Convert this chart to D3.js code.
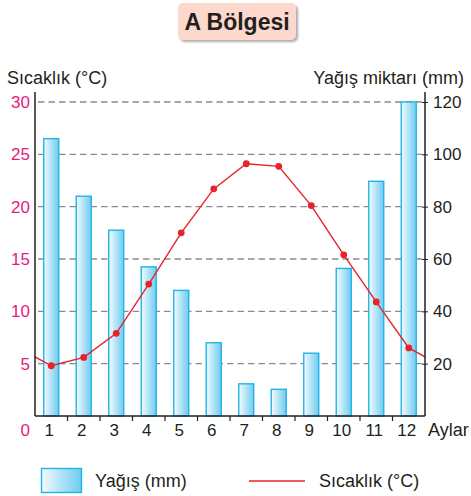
<!DOCTYPE html>
<html>
<head>
<meta charset="utf-8">
<script src="https://d3js.org/d3.v7.min.js"></script>
<style>
  body { margin: 0; background: #fff; }
  svg { font-family: "Liberation Sans", Arial, sans-serif; display: block; }
</style>
</head>
<body>
<div class="chart"></div>
<script>
var months = ["1", "2", "3", "4", "5", "6", "7", "8", "9", "10", "11", "12"];
var rain = [106, 84, 71, 57, 48, 28, 12.3, 10.2, 24, 56.4, 89.7, 120];
var temp = [4.8, 5.6, 7.9, 12.6, 17.5, 21.7, 24.1, 23.85, 20.1, 15.4, 10.9, 6.5];
var tempTicks = [0, 5, 10, 15, 20, 25, 30];
var rainTicks = [20, 40, 60, 80, 100, 120];

var svgW = 471, svgH = 496;
var pLeft = 35, pRight = 425, pTop = 102, pBottom = 416;

var svg = d3.select(".chart").append("svg")
    .attr("width", svgW)
    .attr("height", svgH);

var defs = svg.append("defs");
var grad = defs.append("linearGradient").attr("id", "barGrad")
    .attr("x1", "0%").attr("x2", "100%").attr("y1", "0%").attr("y2", "0%");
grad.append("stop").attr("offset", "0%").attr("stop-color", "#f4fbfe");
grad.append("stop").attr("offset", "100%").attr("stop-color", "#6ecbf0");

defs.append("clipPath").attr("id", "plotClip")
    .append("rect").attr("x", pLeft).attr("y", 90).attr("width", pRight - pLeft).attr("height", pBottom - 90);

var shadow = defs.append("filter").attr("id", "shadow")
    .attr("x", "-10%").attr("y", "-10%").attr("width", "130%").attr("height", "140%");
shadow.append("feDropShadow").attr("dx", 2).attr("dy", 2).attr("stdDeviation", 1.2)
    .attr("flood-color", "#888").attr("flood-opacity", 0.7);

var xS = d3.scaleBand().domain(months).range([pLeft, pRight]).padding(0);
var yT = d3.scaleLinear().domain([0, 30]).range([pBottom, pTop]);
var yR = d3.scaleLinear().domain([0, 120]).range([pBottom, pTop]);

// title box
svg.append("rect")
    .attr("x", 178).attr("y", 3).attr("width", 118).attr("height", 37)
    .attr("rx", 5)
    .attr("fill", "#fcd9cc")
    .attr("filter", "url(#shadow)");
svg.append("text")
    .attr("x", 237).attr("y", 30)
    .attr("text-anchor", "middle")
    .style("font-size", "23px").style("font-weight", "bold")
    .attr("fill", "#231f20")
    .text("A Bölgesi");

// axis titles
svg.append("text").attr("x", 7).attr("y", 84)
    .style("font-size", "18px").attr("fill", "#231f20").text("Sıcaklık (°C)");
svg.append("text").attr("x", 464).attr("y", 84).attr("text-anchor", "end")
    .style("font-size", "18px").attr("fill", "#231f20").text("Yağış miktarı (mm)");

// grid
svg.append("g").selectAll("line")
    .data(tempTicks.filter(function(d) { return d > 0; }))
    .enter().append("line")
    .attr("x1", pLeft + 3).attr("x2", pRight - 3)
    .attr("y1", function(d) { return yT(d); })
    .attr("y2", function(d) { return yT(d); })
    .attr("stroke", "#8a8a8a")
    .attr("stroke-width", 1.3)
    .attr("stroke-dasharray", "6.5,4");

// bars
svg.append("g").selectAll("rect")
    .data(rain)
    .enter().append("rect")
    .attr("x", function(d, i) { return xS(months[i]) + xS.bandwidth() / 2 - 7.5; })
    .attr("y", function(d) { return yR(d); })
    .attr("width", 15)
    .attr("height", function(d) { return pBottom - yR(d); })
    .attr("fill", "url(#barGrad)")
    .attr("stroke", "#1fb5ea")
    .attr("stroke-width", 1.4);

// temperature line, wrapping Dec -> Jan at the edges
var linePts = [[xS(months[0]) - xS.bandwidth() / 2, temp[11]]];
temp.forEach(function(d, i) { linePts.push([xS(months[i]) + xS.bandwidth() / 2, d]); });
linePts.push([pRight + xS.bandwidth() / 2, temp[0]]);

var line = d3.line()
    .x(function(d) { return d[0]; })
    .y(function(d) { return yT(d[1]); });

svg.append("path")
    .datum(linePts)
    .attr("clip-path", "url(#plotClip)")
    .attr("d", line)
    .attr("fill", "none")
    .attr("stroke", "#e8222b")
    .attr("stroke-width", 1.4);

svg.append("g").selectAll("circle")
    .data(temp)
    .enter().append("circle")
    .attr("cx", function(d, i) { return xS(months[i]) + xS.bandwidth() / 2; })
    .attr("cy", function(d) { return yT(d); })
    .attr("r", 3.4)
    .attr("fill", "#e8222b");

// left axis
svg.append("line").attr("x1", pLeft).attr("x2", pLeft).attr("y1", 92).attr("y2", pBottom)
    .attr("stroke", "#231f20").attr("stroke-width", 1.5);
svg.append("g").selectAll("text")
    .data(tempTicks)
    .enter().append("text")
    .attr("x", 30)
    .attr("y", function(d) { return d === 0 ? 436 : yT(d) + 6; })
    .attr("text-anchor", "end")
    .style("font-size", "17px")
    .attr("fill", "#e6197f")
    .text(function(d) { return d; });

// right axis
var rAxis = d3.axisRight(yR).tickValues(rainTicks).tickSize(4).tickPadding(6);
var rg = svg.append("g")
    .attr("transform", "translate(" + pRight + ",0)")
    .call(rAxis);
rg.select(".domain").attr("d", "M0,92V" + pBottom).attr("stroke", "#231f20").attr("stroke-width", 1.5);
rg.selectAll(".tick line").attr("x1", -3).attr("x2", 3).attr("stroke", "#231f20");
rg.selectAll(".tick text")
    .style("font-size", "17px")
    .style("font-family", "'Liberation Sans', Arial, sans-serif")
    .attr("fill", "#231f20")
    .attr("x", 8);

// bottom axis
svg.append("line").attr("x1", pLeft).attr("x2", pRight).attr("y1", pBottom).attr("y2", pBottom)
    .attr("stroke", "#231f20").attr("stroke-width", 1.5);
svg.append("g").selectAll("line")
    .data(months.slice(1))
    .enter().append("line")
    .attr("x1", function(d) { return xS(d); })
    .attr("x2", function(d) { return xS(d); })
    .attr("y1", pBottom).attr("y2", pBottom + 5)
    .attr("stroke", "#231f20").attr("stroke-width", 1.2);
svg.append("g").selectAll("text")
    .data(months)
    .enter().append("text")
    .attr("x", function(d) { return xS(d) + xS.bandwidth() / 2 - 2; })
    .attr("y", 436)
    .attr("text-anchor", "middle")
    .style("font-size", "17px")
    .attr("fill", "#231f20")
    .text(function(d) { return d; });
svg.append("text").attr("x", 428).attr("y", 436)
    .style("font-size", "18px").attr("fill", "#231f20").text("Aylar");

// legend
svg.append("rect").attr("x", 41.5).attr("y", 468.5).attr("width", 40).attr("height", 24)
    .attr("fill", "url(#barGrad)").attr("stroke", "#1fb5ea").attr("stroke-width", 1.4);
svg.append("text").attr("x", 95).attr("y", 487)
    .style("font-size", "18px").attr("fill", "#231f20").text("Yağış (mm)");
svg.append("line").attr("x1", 249).attr("x2", 305).attr("y1", 481).attr("y2", 481)
    .attr("stroke", "#e8222b").attr("stroke-width", 1.4);
svg.append("text").attr("x", 319).attr("y", 487)
    .style("font-size", "18px").attr("fill", "#231f20").text("Sıcaklık (°C)");
</script>
</body>
</html>
